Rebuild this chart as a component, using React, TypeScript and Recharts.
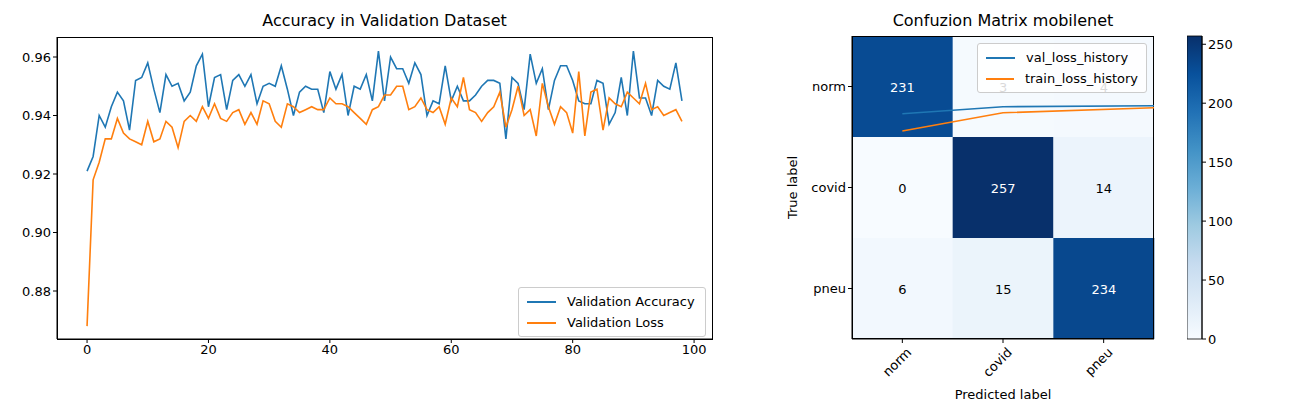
import React from "react";
import { LineChart, Line, XAxis, YAxis, BarChart, Bar, Cell, LabelList } from "recharts";

const valAccuracy = [0.921,0.926,0.940,0.936,0.943,0.948,0.945,0.935,0.952,0.953,0.958,0.949,0.941,0.954,0.950,0.951,0.945,0.948,0.957,0.961,0.943,0.953,0.954,0.942,0.952,0.954,0.950,0.954,0.944,0.950,0.951,0.950,0.957,0.949,0.940,0.948,0.950,0.949,0.949,0.941,0.955,0.949,0.954,0.940,0.950,0.949,0.954,0.945,0.962,0.945,0.960,0.956,0.956,0.951,0.958,0.954,0.940,0.945,0.944,0.957,0.945,0.950,0.945,0.945,0.947,0.950,0.952,0.952,0.951,0.932,0.953,0.951,0.942,0.961,0.951,0.956,0.942,0.952,0.957,0.957,0.952,0.945,0.944,0.944,0.952,0.951,0.937,0.941,0.953,0.940,0.962,0.946,0.946,0.940,0.952,0.950,0.949,0.958,0.945];
const valLoss = [0.868,0.918,0.924,0.932,0.932,0.939,0.934,0.932,0.931,0.930,0.938,0.931,0.932,0.938,0.936,0.929,0.938,0.940,0.938,0.943,0.939,0.944,0.939,0.938,0.941,0.942,0.937,0.941,0.937,0.945,0.944,0.938,0.936,0.944,0.943,0.941,0.942,0.943,0.942,0.942,0.946,0.944,0.944,0.943,0.941,0.939,0.937,0.942,0.943,0.947,0.947,0.950,0.950,0.942,0.943,0.946,0.942,0.941,0.943,0.937,0.946,0.943,0.953,0.942,0.941,0.938,0.941,0.943,0.948,0.936,0.942,0.950,0.940,0.942,0.933,0.951,0.943,0.937,0.943,0.941,0.934,0.955,0.933,0.948,0.949,0.935,0.946,0.944,0.943,0.948,0.946,0.944,0.951,0.942,0.943,0.940,0.941,0.942,0.938];
const accTicksY = [0.88, 0.90, 0.92, 0.94, 0.96];
const accTicksX = [0, 20, 40, 60, 80, 100];

const classLabels = ["norm", "covid", "pneu"];
const matrix = [
  [231, 3, 4],
  [0, 257, 14],
  [6, 15, 234],
];
const overlayX = [0, 1, 2.5];
const valLossHistory = [2.23, 2.30, 2.31];
const trainLossHistory = [2.06, 2.24, 2.29];
const colorbarTicks = [0, 50, 100, 150, 200, 250];

const FONT = "DejaVu Sans, sans-serif";
const BLUE = "#1f77b4";
const ORANGE = "#ff7f0e";

const bluesStops = ["#f7fbff","#deebf7","#c6dbef","#9ecae1","#6baed6","#4292c6","#2171b5","#08519c","#08306b"];
function hex(c: string) { return [1,3,5].map(i => parseInt(c.slice(i, i + 2), 16)); }
function blues(t: number) {
  const p = Math.max(0, Math.min(1, t)) * (bluesStops.length - 1);
  const i = Math.min(Math.floor(p), bluesStops.length - 2);
  const f = p - i;
  const a = hex(bluesStops[i]), b = hex(bluesStops[i + 1]);
  const m = a.map((v, k) => Math.round(v + (b[k] - v) * f));
  return `rgb(${m[0]},${m[1]},${m[2]})`;
}
const VMAX = 257;

const accData = valAccuracy.map((v, i) => ({ epoch: i, acc: v, loss: valLoss[i] }));
const cmData = classLabels.map((c, j) => ({
  pred: c, r2: 1, r1: 1, r0: 1, v2: matrix[2][j], v1: matrix[1][j], v0: matrix[0][j],
}));
const overlayData = overlayX.map((x, i) => ({ x, val: valLossHistory[i], train: trainLossHistory[i] }));

const tickStyle = { fontSize: 13, fill: "#000", fontFamily: FONT };

const CellLabel = (key: string) => (props: any) => {
  const { x, y, width, height, index } = props;
  const v = (cmData[index] as any)[key];
  return (
    <text x={x + width / 2} y={y + height / 2} dy={5} textAnchor="middle" fontSize={13} fontFamily={FONT}
      fill={v > VMAX / 2 ? "#fff" : "#000"}>{v}</text>
  );
};

const RotTick = (props: any) => {
  const { x, y, payload } = props;
  return (
    <g transform={`translate(${x},${y + 4})`}>
      <text transform="rotate(-45)" textAnchor="end" dy={10} dx={4} fontSize={13} fontFamily={FONT} fill="#000">{payload.value}</text>
    </g>
  );
};

function LegendBox({ items, style }: { items: { label: string; color: string }[]; style: React.CSSProperties }) {
  return (
    <div style={{ position: "absolute", background: "rgba(255,255,255,0.85)", border: "1px solid #ccc", borderRadius: 3, padding: "3px 8px", fontFamily: FONT, fontSize: 13, ...style }}>
      {items.map(it => (
        <div key={it.label} style={{ display: "flex", alignItems: "center", height: 21 }}>
          <span style={{ display: "inline-block", width: 29, height: 2, background: it.color, marginRight: 11 }} />
          {it.label}
        </div>
      ))}
    </div>
  );
}

export default function App() {
  const rows = [
    { key: "r2", val: "v2" },
    { key: "r1", val: "v1" },
    { key: "r0", val: "v0" },
  ];
  return (
    <div style={{ position: "absolute", left: 0, top: 0, width: 1300, height: 400, background: "#fff", fontFamily: FONT, overflow: "hidden" }}>
      <div style={{ position: "absolute", left: 57, width: 655, top: 11, textAlign: "center", fontSize: 16 }}>Accuracy in Validation Dataset</div>
      <div style={{ position: "absolute", left: 852, width: 302, top: 11, textAlign: "center", fontSize: 16 }}>Confuzion Matrix mobilenet</div>

      <div style={{ position: "absolute", left: 0, top: 0 }}>
        <LineChart width={720} height={400} data={accData} margin={{ top: 37, right: 8, bottom: 31, left: 7 }}>
          <XAxis dataKey="epoch" type="number" domain={[-4.95, 102.95]} ticks={accTicksX} allowDataOverflow
            tick={tickStyle} stroke="#000" tickSize={4} height={30} />
          <YAxis type="number" domain={[0.86359, 0.96684]} ticks={accTicksY} allowDataOverflow tickFormatter={(v: number) => v.toFixed(2)}
            tick={tickStyle} stroke="#000" tickSize={4} width={50} />
          <Line dataKey="acc" stroke={BLUE} strokeWidth={1.6} dot={false} isAnimationActive={false} />
          <Line dataKey="loss" stroke={ORANGE} strokeWidth={1.6} dot={false} isAnimationActive={false} />
        </LineChart>
      </div>
      <div style={{ position: "absolute", left: 57, top: 37, width: 654, height: 301, border: "1px solid #000", pointerEvents: "none" }} />
      <LegendBox style={{ left: 518, top: 287, width: 170 }} items={[{ label: "Validation Accuracy", color: BLUE }, { label: "Validation Loss", color: ORANGE }]} />

      <div style={{ position: "absolute", left: 760, top: 0 }}>
        <BarChart width={400} height={400} data={cmData} margin={{ top: 36, right: 6, bottom: 11, left: 12 }} barCategoryGap={0}>
          <XAxis dataKey="pred" tick={<RotTick />} stroke="#000" tickSize={4} height={50} interval={0} />
          <YAxis type="number" domain={[0, 3]} ticks={[0.5, 1.5, 2.5]} tickFormatter={(v: number) => classLabels[2 - Math.floor(v)]}
            tick={tickStyle} stroke="#000" tickSize={4} width={80}
            label={{ value: "True label", angle: -90, position: "insideLeft", offset: 20, style: { fontSize: 13, fontFamily: FONT, fill: "#000", textAnchor: "middle" } }} />
          {rows.map(r => (
            <Bar key={r.key} dataKey={r.key} stackId="s" isAnimationActive={false}>
              {cmData.map((d: any, j) => <Cell key={j} fill={blues(d[r.val] / VMAX)} />)}
              <LabelList dataKey={r.val} content={CellLabel(r.val)} />
            </Bar>
          ))}
        </BarChart>
      </div>
      <div style={{ position: "absolute", left: 852, top: 36, width: 300, height: 301, border: "1px solid #000", pointerEvents: "none" }} />
      <div style={{ position: "absolute", left: 852, width: 302, top: 387, textAlign: "center", fontSize: 13 }}>Predicted label</div>

      <div style={{ position: "absolute", left: 852, top: 36 }}>
        <LineChart width={302} height={303} data={overlayData} margin={{ top: 0, right: 0, bottom: 0, left: 0 }}>
          <XAxis dataKey="x" type="number" domain={[-0.5, 2.5]} hide />
          <YAxis type="number" domain={[0, 3]} hide />
          <Line dataKey="val" stroke={BLUE} strokeWidth={1.6} dot={false} isAnimationActive={false} />
          <Line dataKey="train" stroke={ORANGE} strokeWidth={1.6} dot={false} isAnimationActive={false} />
        </LineChart>
      </div>
      <LegendBox style={{ left: 977, top: 43, width: 152 }} items={[{ label: "val_loss_history", color: BLUE }, { label: "train_loss_history", color: ORANGE }]} />

      <div style={{ position: "absolute", left: 1187, top: 0 }}>
        <BarChart width={60} height={400} data={[{ c: "cb", v: VMAX }]} margin={{ top: 36, right: 0, bottom: 61, left: 0 }} barCategoryGap={0}>
          <defs>
            <linearGradient id="bluesGrad" x1="0" y1="1" x2="0" y2="0">
              {bluesStops.map((c, i) => <stop key={i} offset={`${(i / (bluesStops.length - 1)) * 100}%`} stopColor={c} />)}
            </linearGradient>
          </defs>
          <XAxis dataKey="c" hide />
          <YAxis orientation="right" type="number" domain={[0, VMAX]} ticks={colorbarTicks} tick={tickStyle} stroke="#000" tickSize={4} width={45} />
          <Bar dataKey="v" fill="url(#bluesGrad)" stroke="#000" strokeWidth={0.8} isAnimationActive={false} />
        </BarChart>
      </div>
    </div>
  );
}
